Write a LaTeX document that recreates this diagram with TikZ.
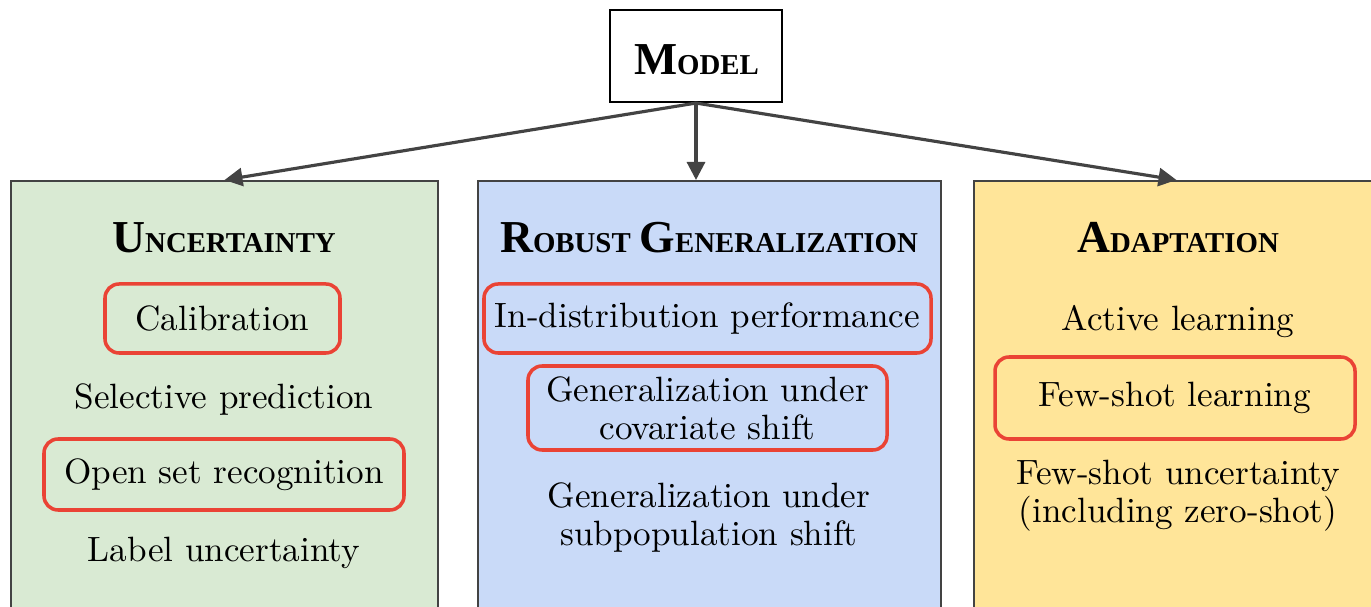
\documentclass[tikz,border=0pt]{standalone}
\usepackage{fontspec}
\usepackage{tikz}
\usetikzlibrary{arrows.meta,positioning}
\usepackage{xcolor}
\newfontfamily\headfont{Liberation Serif}
\definecolor{UncGreen}{RGB}{217,234,211}
\definecolor{RobBlue}{RGB}{201,218,248}
\definecolor{AdaYellow}{RGB}{255,229,153}
\definecolor{MarkRed}{RGB}{234,67,53}
\definecolor{EdgeGray}{RGB}{67,67,67}
\newcommand{\bigsc}[2]{{\fontsize{13}{15}\selectfont #1}{\fontsize{8.2}{10}\selectfont #2}}

\begin{document}
\begin{tikzpicture}[
    colbox/.style={draw=EdgeGray,line width=0.6pt,anchor=north,minimum height=4.6cm},
    title/.style={font=\headfont\bfseries,align=center,anchor=base},
    item/.style={font=\fontsize{10}{10.8}\selectfont,align=center},
    redbox/.style={draw=MarkRed,line width=1pt,rounded corners=4pt,inner sep=0pt},
    link/.style={-{Triangle[length=1.8mm,width=1.8mm]},draw=EdgeGray,line width=0.9pt}]
    \useasboundingbox (0,0) rectangle (13.71,-6.07);
    \clip (0,0) rectangle (13.71,-6.07);
    % top
    \node[draw=black,line width=0.6pt,fill=white,minimum width=1.72cm,minimum height=0.92cm] (model) at (6.96,-0.56) {};
    \node[title] (modelt) at (6.965,-0.745) {\bigsc{M}{ODEL}};
    % three columns
    \node[colbox,fill=UncGreen,minimum width=4.27cm] (unc) at (2.245,-1.80) {};
    \node[colbox,fill=RobBlue,minimum width=4.63cm] (rob) at (7.095,-1.80) {};
    \node[colbox,fill=AdaYellow,minimum width=4.05cm] (ada) at (11.765,-1.80) {};
    \draw[link] (model.south) -- (unc.north);
    \draw[link] (model.south) -- (model.south |- rob.north);
    \draw[link] (model.south) -- (ada.north);
    % uncertainty
    \node[title] (unct) at (2.24,-2.53) {\bigsc{U}{NCERTAINTY}};
    \node[item,redbox,minimum width=2.35cm,minimum height=0.69cm] (cal) at (2.225,-3.185) {Calibration};
    \node[item] (sel) at (2.24,-4.00) {Selective prediction};
    \node[item,redbox,minimum width=3.60cm,minimum height=0.71cm] (ope) at (2.24,-4.745) {Open set recognition};
    \node[item] (lab) at (2.24,-5.53) {Label uncertainty};
    % robust generalization
    \node[title] (robt) at (7.09,-2.53) {\bigsc{R}{OBUST} \bigsc{G}{ENERALIZATION}};
    \node[item,redbox,minimum width=4.47cm,minimum height=0.69cm] (ind) at (7.075,-3.185) {In-distribution performance};
    \node[item,redbox,minimum width=3.59cm,minimum height=0.84cm] (cov) at (7.075,-4.08) {Generalization under\\covariate shift};
    \node[item] (sub) at (7.09,-5.18) {Generalization under\\subpopulation shift};
    % adaptation
    \node[title] (adat) at (11.78,-2.53) {\bigsc{A}{DAPTATION}};
    \node[item] (act) at (11.78,-3.22) {Active learning};
    \node[item,redbox,minimum width=3.60cm,minimum height=0.82cm] (few) at (11.75,-3.98) {Few-shot learning};
    \node[item] (fsu) at (11.78,-4.96) {Few-shot uncertainty\\(including zero-shot)};
\end{tikzpicture}
\end{document}
